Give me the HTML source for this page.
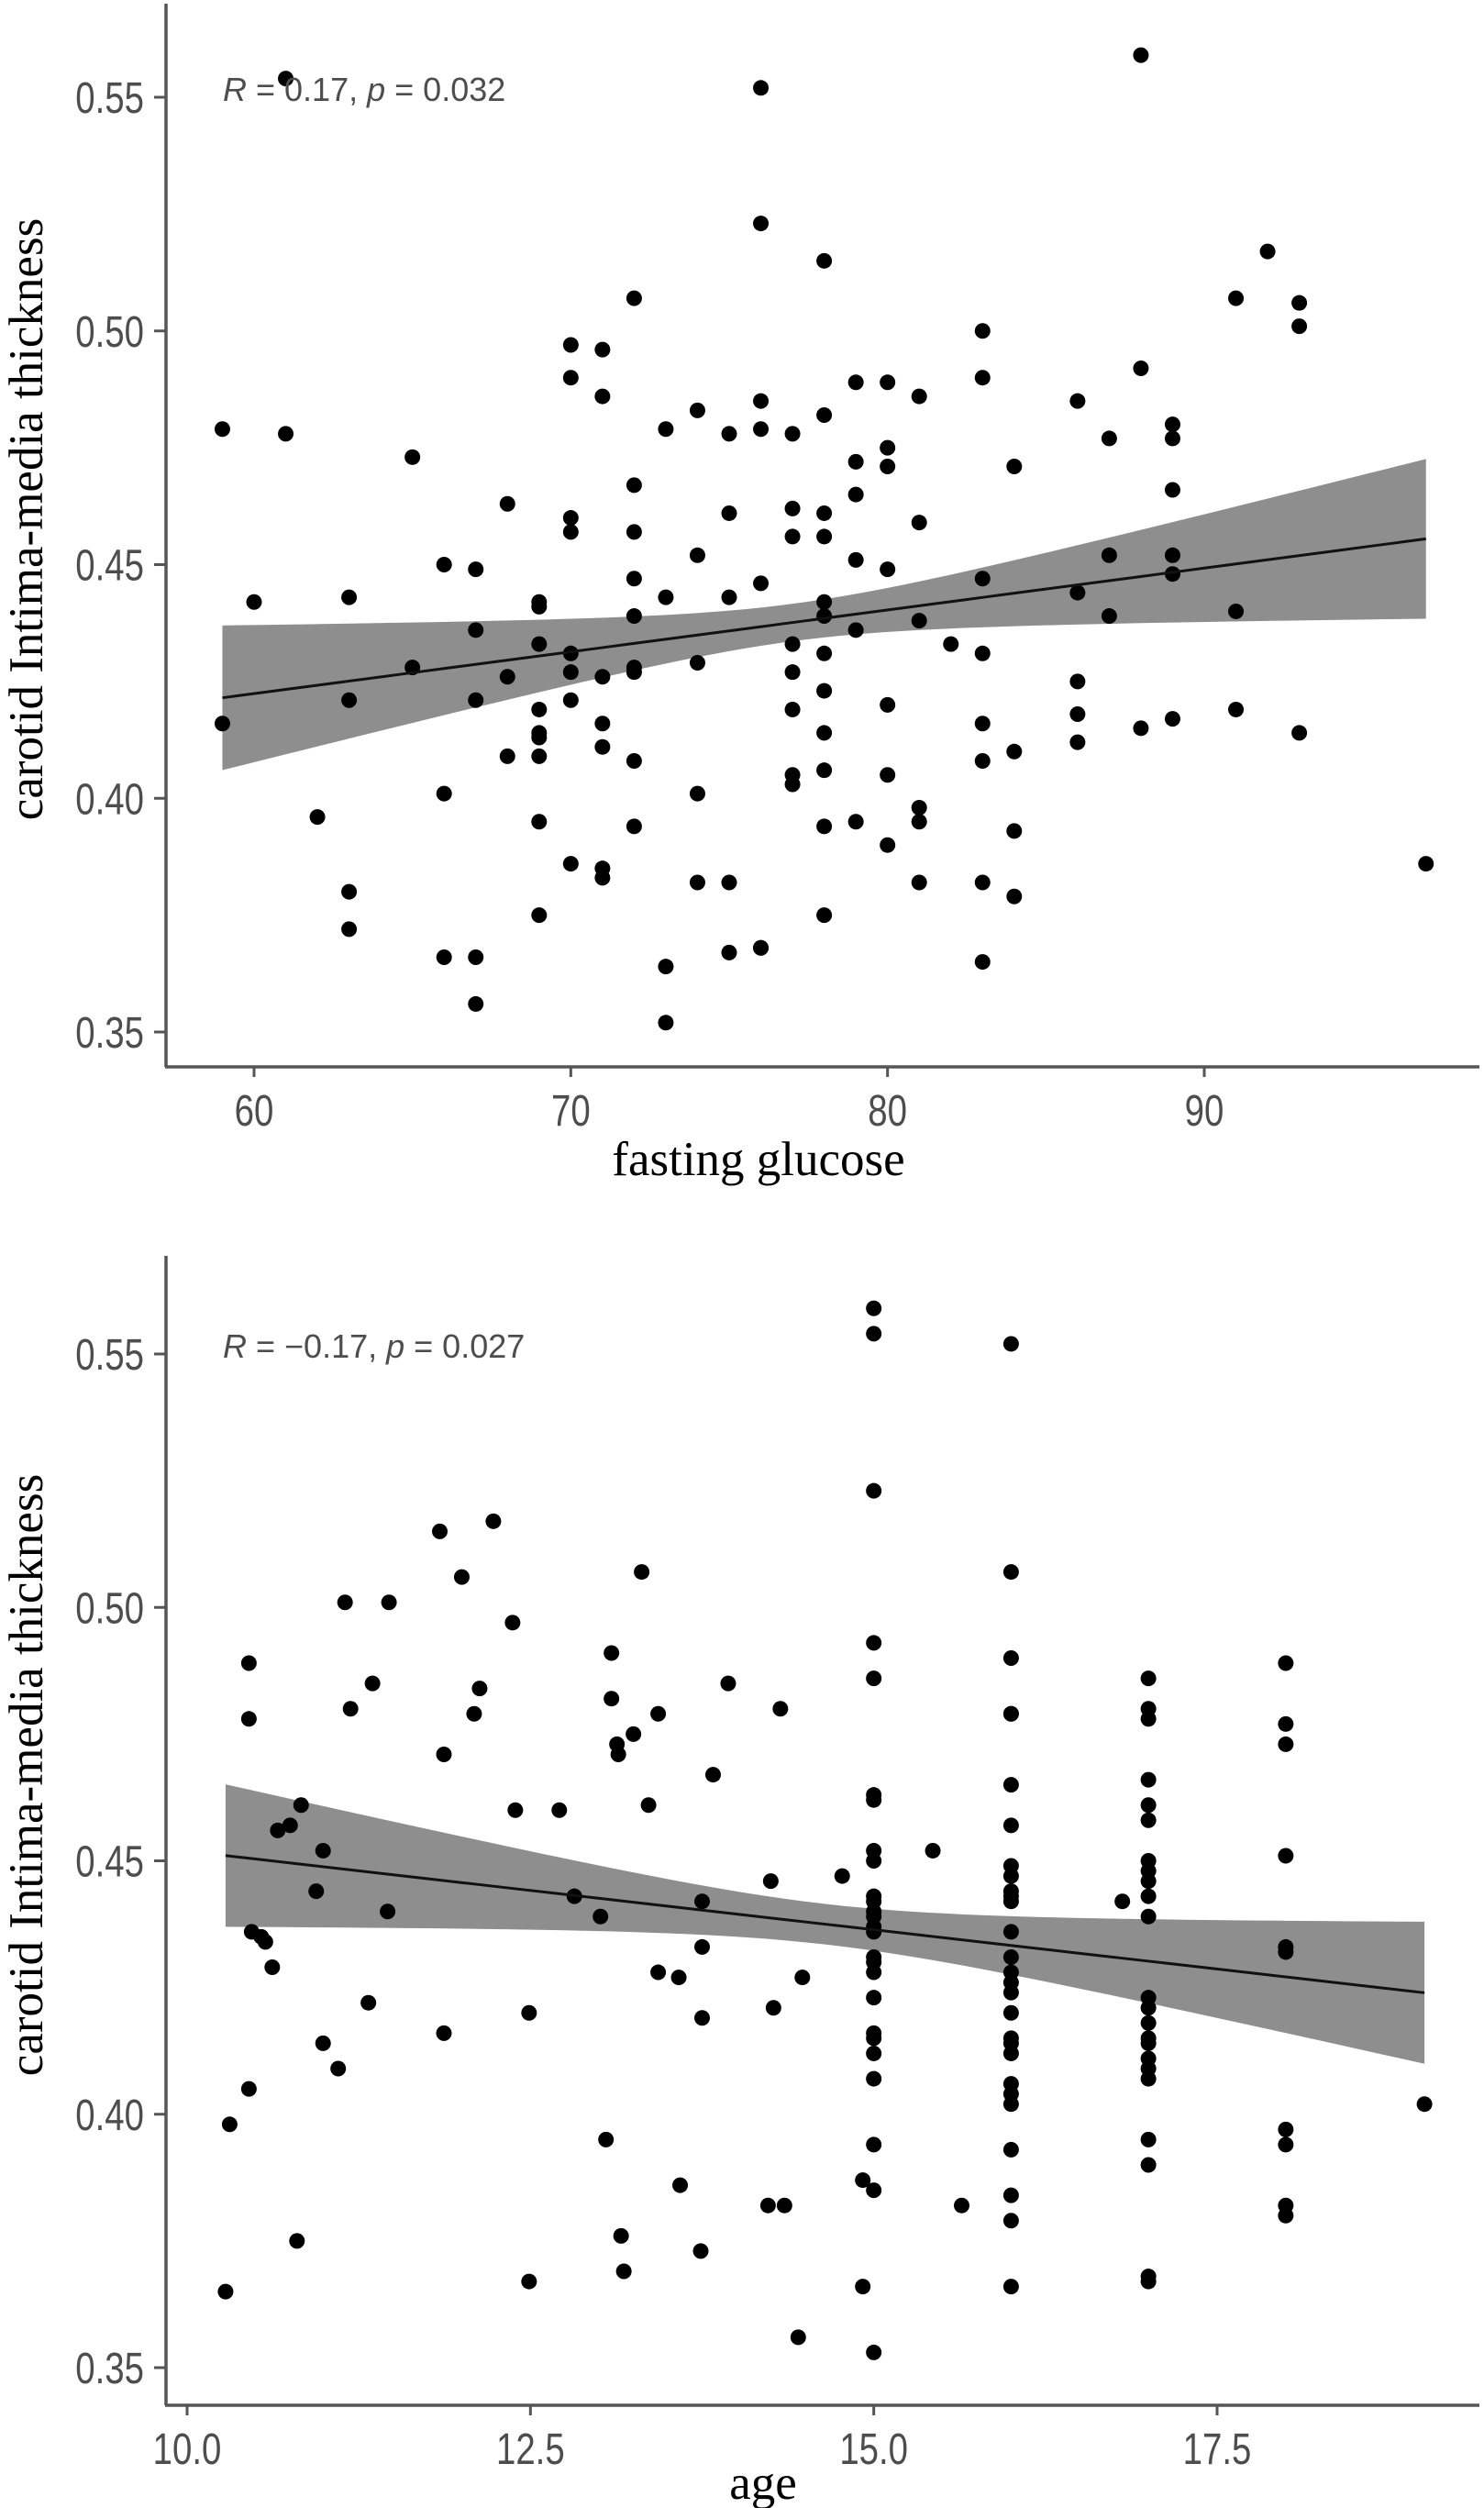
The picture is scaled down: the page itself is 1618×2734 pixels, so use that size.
<!DOCTYPE html>
<html><head><meta charset="utf-8"><style>
html,body{margin:0;padding:0;background:#fff;}
svg{display:block;}
.tick{font-family:"Liberation Sans",sans-serif;font-size:48px;fill:#4d4d4d;}
.ttl{font-family:"Liberation Serif",serif;font-size:53px;fill:#000;}
.ann{font-family:"Liberation Sans",sans-serif;font-size:36px;fill:#4d4d4d;}
</style></head><body>
<svg id="chart" width="1618" height="2734" viewBox="0 0 1618 2734">
<g id="top"></g>
<g id="bot"></g>
</svg>
<script>
// ---- Top panel data: fasting glucose vs CIMT ----
const glucoseX = [59,59,60,61,61,62,63,63,63,63,65,65,66,66,66,67,67,67,67,67,68,68,68,
69,69,69,69,69,69,69,69,69,70,70,70,70,70,70,70,70,71,71,71,71,71,71,71,
72,72,72,72,72,72,72,72,72,73,73,73,73,74,74,74,74,74,75,75,75,75,75,
76,76,76,76,76,76,76,77,77,77,77,77,77,77,77,78,78,78,78,78,78,78,78,78,78,78,78,
79,79,79,79,79,79,80,80,80,80,80,80,80,81,81,81,81,81,81,82,
83,83,83,83,83,83,83,83,84,84,84,84,86,86,86,86,86,87,87,87,88,88,88,
89,89,89,89,89,89,91,91,91,92,93,93,93,97];
const glucoseY = [0.479,0.416,0.442,0.554,0.478,0.396,0.443,0.421,0.380,0.372,0.473,0.428,0.450,0.401,0.366,0.449,0.436,0.421,0.366,0.356,0.463,0.426,0.409,
0.442,0.441,0.433,0.419,0.414,0.413,0.409,0.395,0.375,0.497,0.490,0.460,0.457,0.431,0.427,0.421,0.386,0.496,0.486,0.426,0.416,0.411,0.385,0.383,
0.507,0.467,0.457,0.447,0.439,0.428,0.427,0.408,0.394,0.479,0.443,0.364,0.352,0.483,0.452,0.429,0.401,0.382,0.478,0.461,0.443,0.382,0.367,
0.552,0.523,0.485,0.479,0.446,0.368,0.368,0.478,0.462,0.456,0.433,0.427,0.419,0.405,0.403,0.515,0.482,0.461,0.456,0.442,0.439,0.431,0.423,0.414,0.406,0.394,0.375,
0.489,0.472,0.465,0.451,0.436,0.395,0.489,0.475,0.471,0.449,0.420,0.405,0.390,0.486,0.459,0.438,0.398,0.395,0.382,0.433,
0.500,0.490,0.447,0.431,0.416,0.408,0.382,0.365,0.471,0.410,0.393,0.379,0.485,0.444,0.425,0.418,0.412,0.477,0.452,0.439,0.559,0.492,0.415,
0.480,0.477,0.466,0.452,0.448,0.417,0.507,0.440,0.419,0.517,0.506,0.501,0.414,0.386];
const glucoseFit = [0.3687, 0.000895, 77, 0.0000160, 0.00000069];
const glucoseXTicks = [60,70,80,90];
const glucoseXTickLabels = ["60","70","80","90"];
const glucoseYTicks = [0.35,0.40,0.45,0.50,0.55];
const glucoseYTickLabels = ["0.35","0.40","0.45","0.50","0.55"];

// ---- Bottom panel data: age vs CIMT ----
const ageX = [10.28,10.31,10.45,10.45,10.47,10.45,10.54,10.57,10.62,10.66,10.75,10.83,10.80,10.94,10.99,10.99,11.10,11.15,11.19,11.32,11.35,11.46,11.47,
11.84,11.87,11.87,12.00,12.09,12.13,12.23,12.37,12.39,12.49,12.49,12.71,12.82,13.01,13.05,13.09,13.09,13.13,13.14,13.16,13.18,13.25,13.31,13.36,
13.43,13.43,13.58,13.59,13.75,13.75,13.75,13.74,13.83,13.94,14.25,14.27,14.32,14.23,14.35,14.45,14.48,14.77,15.43,15.64,16.81,
15,15,15,15,15,15,15,15,15,15,15,15,15,15,15,15,15,15,15,15,15,15,15,15,14.92,15,14.92,15,
16,16,16,16,16,16,16,16,16,16,16,16,16,16,16,16,16,16,16,16,16,16,16,16,16,16,16,16,
17,17,17,17,17,17,17,17,17,17,17,17,17,17,17,17,17,17,17,17,17,17,17,
18,18,18,18,18,18,18,18,18,18,19.01];
const ageY = [0.365,0.398,0.489,0.478,0.436,0.405,0.435,0.434,0.429,0.456,0.457,0.461,0.375,0.444,0.452,0.414,0.409,0.501,0.480,0.422,0.485,0.440,0.501,
0.515,0.471,0.416,0.506,0.479,0.484,0.517,0.497,0.460,0.420,0.367,0.460,0.443,0.439,0.395,0.491,0.482,0.473,0.471,0.376,0.369,0.475,0.507,0.461,
0.428,0.479,0.427,0.386,0.442,0.433,0.419,0.373,0.467,0.485,0.446,0.421,0.480,0.382,0.382,0.356,0.427,0.447,0.452,0.382,0.442,
0.559,0.554,0.523,0.493,0.486,0.463,0.462,0.452,0.450,0.443,0.442,0.440,0.439,0.437,0.436,0.431,0.430,0.428,0.423,0.416,0.415,0.412,0.407,0.394,0.387,0.385,0.366,0.353,
0.552,0.507,0.490,0.479,0.479,0.465,0.457,0.449,0.447,0.444,0.443,0.442,0.436,0.431,0.428,0.426,0.424,0.420,0.415,0.414,0.412,0.406,0.404,0.402,0.393,0.384,0.379,0.366,
0.486,0.480,0.478,0.466,0.461,0.458,0.450,0.448,0.446,0.443,0.439,0.423,0.421,0.418,0.415,0.414,0.411,0.409,0.407,0.395,0.390,0.368,0.367,
0.489,0.477,0.473,0.451,0.433,0.432,0.397,0.394,0.382,0.380,0.402];
const ageFit = [0.4829, -0.0031, 14.65, 0.0000160, 0.0000095];
const ageXTicks = [10.0,12.5,15.0,17.5];
const ageXTickLabels = ["10.0","12.5","15.0","17.5"];
const ageYTicks = [0.35,0.40,0.45,0.50,0.55];
const ageYTickLabels = ["0.35","0.40","0.45","0.50","0.55"];

const NS="http://www.w3.org/2000/svg";
function mk(tag,attrs,parent){const e=document.createElementNS(NS,tag);for(const k in attrs)e.setAttribute(k,attrs[k]);parent.appendChild(e);return e;}

function panel(g,cfg){
  const sx=v=>cfg.x0px+(v-cfg.x0)*(cfg.x1px-cfg.x0px)/(cfg.x1-cfg.x0);
  const sy=v=>cfg.y0px+(v-cfg.y0)*(cfg.y1px-cfg.y0px)/(cfg.y1-cfg.y0);
  const f=cfg.fit; const xs=cfg.xs; const xmin=Math.min(...xs), xmax=Math.max(...xs);
  const yhat=x=>f[0]+f[1]*x; const se=x=>Math.sqrt(f[3]+f[4]*(x-f[2])*(x-f[2]));
  let up=[],lo=[],ln=[];
  for(let i=0;i<=60;i++){const x=xmin+(xmax-xmin)*i/60;const h=se(x);
    up.push(sx(x)+','+sy(yhat(x)+h));lo.unshift(sx(x)+','+sy(yhat(x)-h));ln.push(sx(x)+','+sy(yhat(x)));}
  const band=mk('polygon',{points:up.concat(lo).join(' '),fill:'#8e8e8e'},g);
  
  
  for(let i=0;i<xs.length;i++){
    const c=mk('circle',{cx:sx(xs[i]),cy:sy(cfg.ys[i]),r:8.5,fill:'#000'},g);
    
    
  }
  const fl=mk('polyline',{points:ln.join(' '),fill:'none',stroke:'#111',"stroke-width":3},g);
  
  
  const ya=mk('line',{x1:181,y1:cfg.top,x2:181,y2:cfg.axisY,stroke:'#555',"stroke-width":3.5},g);
  
  
  const xa=mk('line',{x1:180,y1:cfg.axisY,x2:1613,y2:cfg.axisY,stroke:'#555',"stroke-width":3.5},g);
  
  
  cfg.xt.forEach((t,i)=>{
    mk('line',{x1:sx(t),y1:cfg.axisY,x2:sx(t),y2:cfg.axisY+11,stroke:'#555',"stroke-width":3},g);
    const tx=mk('text',{x:0,y:0,"text-anchor":"middle",class:"tick",transform:'translate('+sx(t)+','+(cfg.axisY+64)+') scale(0.8,1)'},g);
    tx.textContent=cfg.xtl[i];
    
    
  });
  cfg.yt.forEach((t,i)=>{
    mk('line',{x1:168,y1:sy(t),x2:181,y2:sy(t),stroke:'#555',"stroke-width":3},g);
    const tx=mk('text',{x:0,y:0,"text-anchor":"end",class:"tick",transform:'translate(157,'+(sy(t)+17)+') scale(0.8,1)'},g);
    tx.textContent=cfg.ytl[i];
    
    
  });
}
panel(document.getElementById('top'),{x0:60,x1:90,x0px:277,x1px:1313,y0:0.35,y1:0.55,y0px:1125,y1px:106,
  top:4,axisY:1163,xs:glucoseX,ys:glucoseY,fit:glucoseFit,
  xt:glucoseXTicks,xtl:glucoseXTickLabels,yt:glucoseYTicks,ytl:glucoseYTickLabels});
panel(document.getElementById('bot'),{x0:10,x1:17.5,x0px:204,x1px:1327,y0:0.35,y1:0.55,y0px:2581,y1px:1476,
  top:1369,axisY:2622,xs:ageX,ys:ageY,fit:ageFit,
  xt:ageXTicks,xtl:ageXTickLabels,yt:ageYTicks,ytl:ageYTickLabels});
</script>
<svg style="position:absolute;left:0;top:0" width="1618" height="2734">
<text class="ttl" x="827" y="1281" text-anchor="middle">fasting glucose</text>
<text class="ttl" x="832" y="2724" text-anchor="middle">age</text>
<text class="ttl" transform="translate(46,566) rotate(-90)" text-anchor="middle">carotid Intima-media thickness</text>
<text class="ttl" transform="translate(46,1935) rotate(-90)" text-anchor="middle">carotid Intima-media thickness</text>
<text class="ann" x="243" y="110"><tspan font-style="italic">R</tspan> = 0.17, <tspan font-style="italic">p</tspan> = 0.032</text>
<text class="ann" x="243" y="1480"><tspan font-style="italic">R</tspan> = −0.17, <tspan font-style="italic">p</tspan> = 0.027</text>
</svg>
</body></html>
